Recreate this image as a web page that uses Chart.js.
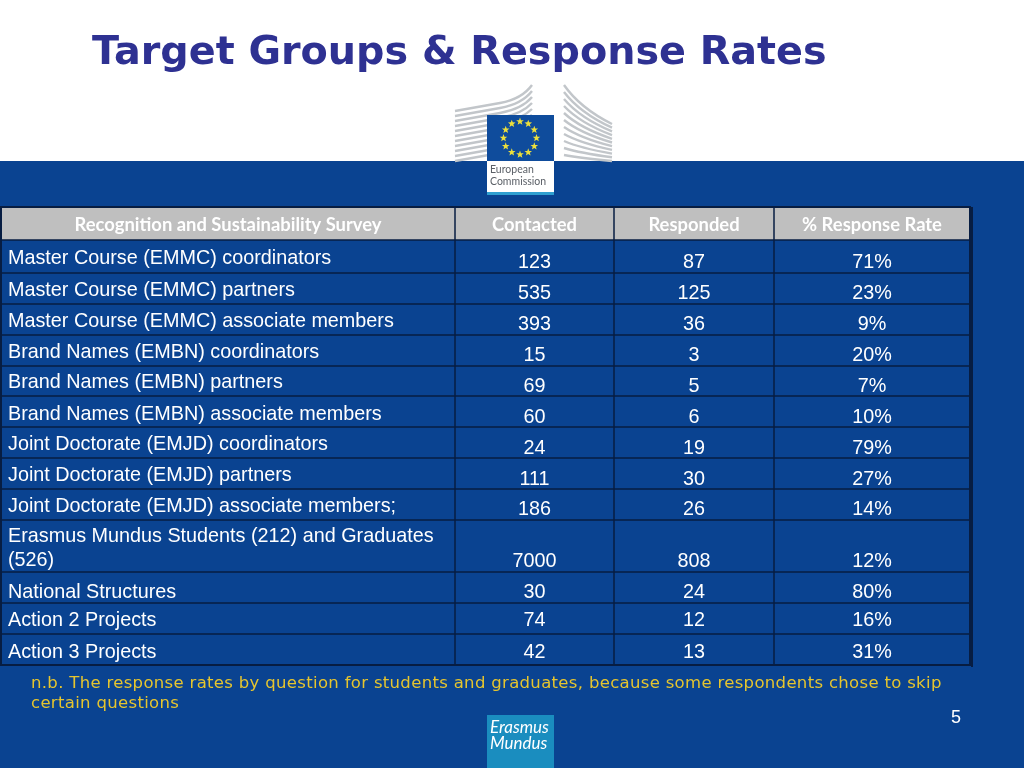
<!DOCTYPE html>
<html>
<head>
<meta charset="utf-8">
<title>Target Groups & Response Rates</title>
<script src="https://cdn.jsdelivr.net/npm/chart.js@4"></script>
<style>
  html, body { margin: 0; padding: 0; background: #fff; }
  canvas { display: block; }
</style>
</head>
<body>
<canvas id="slide" width="1024" height="768"></canvas>
<script>
// table contents
const headers = ['Recognition and Sustainability Survey', 'Contacted', 'Responded', '% Response Rate'];
const groups = [
    ['Master Course (EMMC) coordinators'],
    ['Master Course (EMMC) partners'],
    ['Master Course (EMMC) associate members'],
    ['Brand Names (EMBN) coordinators'],
    ['Brand Names (EMBN) partners'],
    ['Brand Names (EMBN) associate members'],
    ['Joint Doctorate (EMJD) coordinators'],
    ['Joint Doctorate (EMJD) partners'],
    ['Joint Doctorate (EMJD) associate members;'],
    ['Erasmus Mundus Students (212) and Graduates', '(526)'],
    ['National Structures'],
    ['Action 2 Projects'],
    ['Action 3 Projects']
];
const contacted = [123, 535, 393, 15, 69, 60, 24, 111, 186, 7000, 30, 74, 42];
const responded = [87, 125, 36, 3, 5, 6, 19, 30, 26, 808, 24, 12, 13];
const responseRate = [71, 23, 9, 20, 7, 10, 79, 27, 14, 12, 80, 16, 31];

// layout, in slide pixels (the hidden scales run 0-1024 and 0-768)
const colEdges = [1, 455, 614, 774, 970];
const rowEdges = [240, 273, 304, 335, 366, 396, 427, 458, 489, 520, 572, 603, 634, 665];
const headerTop = 207;
const groupY = [259, 291, 322, 353, 383, 415, 445, 476, 507, 537, 593, 621, 653];
const valueY = [263, 294, 325, 356, 387, 418, 449, 480, 510, 562, 593, 621, 653];

const colCenter = i => (colEdges[i] + colEdges[i + 1]) / 2;
const column = (values, i, suffix) => ({
    label: headers[i],
    data: values.map((v, r) => ({ x: colCenter(i), y: valueY[r], text: v + suffix })),
    pointRadius: 0,
    showLine: false
});

const BLUE = '#0a4391';
const LINE = '#071d42';

function drawStar(ctx, cx, cy, r) {
    ctx.beginPath();
    for (let i = 0; i < 10; i++) {
        const a = -Math.PI / 2 + i * Math.PI / 5;
        const d = i % 2 ? r * 0.42 : r;
        ctx.lineTo(cx + d * Math.cos(a), cy + d * Math.sin(a));
    }
    ctx.closePath();
    ctx.fill();
}

function drawCommissionLogo(ctx) {
    // building wings
    ctx.strokeStyle = '#c2c6ca';
    ctx.lineWidth = 2.4;
    for (let i = 0; i < 11; i++) {
        const yL = 111 + i * 5;
        ctx.beginPath();
        ctx.moveTo(455, yL);
        ctx.lineTo(500, yL - 8);
        ctx.quadraticCurveTo(522, yL - 12, 532, 85 + i * 6);
        ctx.stroke();
        ctx.beginPath();
        ctx.moveTo(564, 85 + i * 7);
        ctx.quadraticCurveTo(580, 108 + i * 5, 612, 124 + i * 3.7);
        ctx.stroke();
    }
    ctx.fillStyle = '#fff';
    ctx.fillRect(533, 80, 30, 36);

    // flag
    ctx.fillStyle = '#0f4c9c';
    ctx.fillRect(487, 115, 67, 47);
    ctx.fillStyle = '#ecdf3c';
    for (let i = 0; i < 12; i++) {
        const a = i * Math.PI / 6;
        drawStar(ctx, 520 + 16.5 * Math.sin(a), 138 - 16.5 * Math.cos(a), 4);
    }

    // name plate
    ctx.fillStyle = '#fff';
    ctx.fillRect(487, 161, 67, 32);
    ctx.fillStyle = '#2f9fd0';
    ctx.fillRect(487, 192, 67, 3);
    ctx.fillStyle = '#5a5f66';
    ctx.font = '10.5px Lato';
    ctx.textAlign = 'left';
    ctx.textBaseline = 'alphabetic';
    ctx.fillText('European', 490, 173);
    ctx.fillText('Commission', 490, 185);
}

const slidePlugin = {
    id: 'slide',
    beforeDatasetsDraw(chart) {
        const { ctx } = chart;
        const X = chart.scales.x, Y = chart.scales.y;
        const px = v => X.getPixelForValue(v);
        const py = v => Y.getPixelForValue(v);
        const bottom = rowEdges[rowEdges.length - 1];

        ctx.save();
        // page
        ctx.fillStyle = '#fff';
        ctx.fillRect(0, 0, 1024, 768);
        ctx.fillStyle = BLUE;
        ctx.fillRect(0, 161, 1024, 607);

        ctx.fillStyle = '#2e3192';
        ctx.font = 'bold 39.7px "DejaVu Sans"';
        ctx.textAlign = 'left';
        ctx.textBaseline = 'alphabetic';
        ctx.fillText('Target Groups & Response Rates', 92, 64);

        drawCommissionLogo(ctx);

        // header band
        ctx.fillStyle = '#bfbfbf';
        ctx.fillRect(px(colEdges[0]), py(headerTop), px(colEdges[4]) - px(colEdges[0]), py(rowEdges[0]) - py(headerTop));
        ctx.fillStyle = '#fff';
        ctx.font = 'bold 18.4px Lato';
        ctx.textAlign = 'center';
        ctx.textBaseline = 'middle';
        headers.forEach((h, i) => ctx.fillText(h, px(colCenter(i)), py(225)));

        // grid
        ctx.strokeStyle = LINE;
        ctx.lineWidth = 1.5;
        rowEdges.forEach(r => {
            ctx.beginPath();
            ctx.moveTo(px(colEdges[0]), py(r));
            ctx.lineTo(px(colEdges[4]), py(r));
            ctx.stroke();
        });
        colEdges.slice(1, 4).forEach(c => {
            ctx.beginPath();
            ctx.moveTo(px(c), py(headerTop));
            ctx.lineTo(px(c), py(bottom));
            ctx.stroke();
        });
        ctx.lineWidth = 2;
        ctx.strokeRect(px(colEdges[0]), py(headerTop), px(colEdges[4]) - px(colEdges[0]), py(bottom) - py(headerTop));
        ctx.fillStyle = LINE;
        ctx.fillRect(px(colEdges[4]) + 1, py(headerTop), 2, py(bottom) - py(headerTop) + 2);

        // first column
        ctx.fillStyle = '#fff';
        ctx.font = '19.8px "Liberation Sans"';
        ctx.textAlign = 'left';
        ctx.textBaseline = 'middle';
        groups.forEach((lines, r) => {
            lines.forEach((line, k) => ctx.fillText(line, px(8), py(groupY[r] + k * 24)));
        });

        // footnote and page number
        ctx.fillStyle = '#e6c52e';
        ctx.font = '16.5px "DejaVu Sans"';
        ctx.letterSpacing = '0.32px';
        ctx.textBaseline = 'alphabetic';
        ctx.fillText('n.b. The response rates by question for students and graduates, because some respondents chose to skip', 31, 688);
        ctx.fillText('certain questions', 31, 708);
        ctx.letterSpacing = '0px';
        ctx.fillStyle = '#fff';
        ctx.font = '18px "Liberation Sans"';
        ctx.fillText('5', 951, 723);

        // Erasmus Mundus logo
        ctx.fillStyle = '#1a8dbf';
        ctx.fillRect(487, 715, 67, 53);
        ctx.fillStyle = '#fff';
        ctx.font = 'italic 17px Lato';
        ctx.fillText('Erasmus', 490, 733);
        ctx.fillText('Mundus', 490, 749);
        ctx.restore();
    },
    afterDatasetsDraw(chart) {
        const { ctx } = chart;
        ctx.save();
        ctx.fillStyle = '#fff';
        ctx.font = '19.8px "Liberation Sans"';
        ctx.textAlign = 'center';
        ctx.textBaseline = 'middle';
        chart.data.datasets.forEach((ds, i) => {
            chart.getDatasetMeta(i).data.forEach((pt, r) => {
                ctx.fillText(ds.data[r].text, pt.x, pt.y);
            });
        });
        ctx.restore();
    }
};

new Chart(document.getElementById('slide').getContext('2d'), {
    type: 'scatter',
    data: {
        datasets: [
            column(contacted, 1, ''),
            column(responded, 2, ''),
            column(responseRate, 3, '%')
        ]
    },
    options: {
        responsive: false,
        animation: false,
        layout: { padding: 0 },
        plugins: { legend: { display: false }, tooltip: { enabled: false } },
        scales: {
            x: { type: 'linear', min: 0, max: 1024, display: false },
            y: { type: 'linear', min: 0, max: 768, reverse: true, display: false }
        }
    },
    plugins: [slidePlugin]
});
</script>
</body>
</html>
